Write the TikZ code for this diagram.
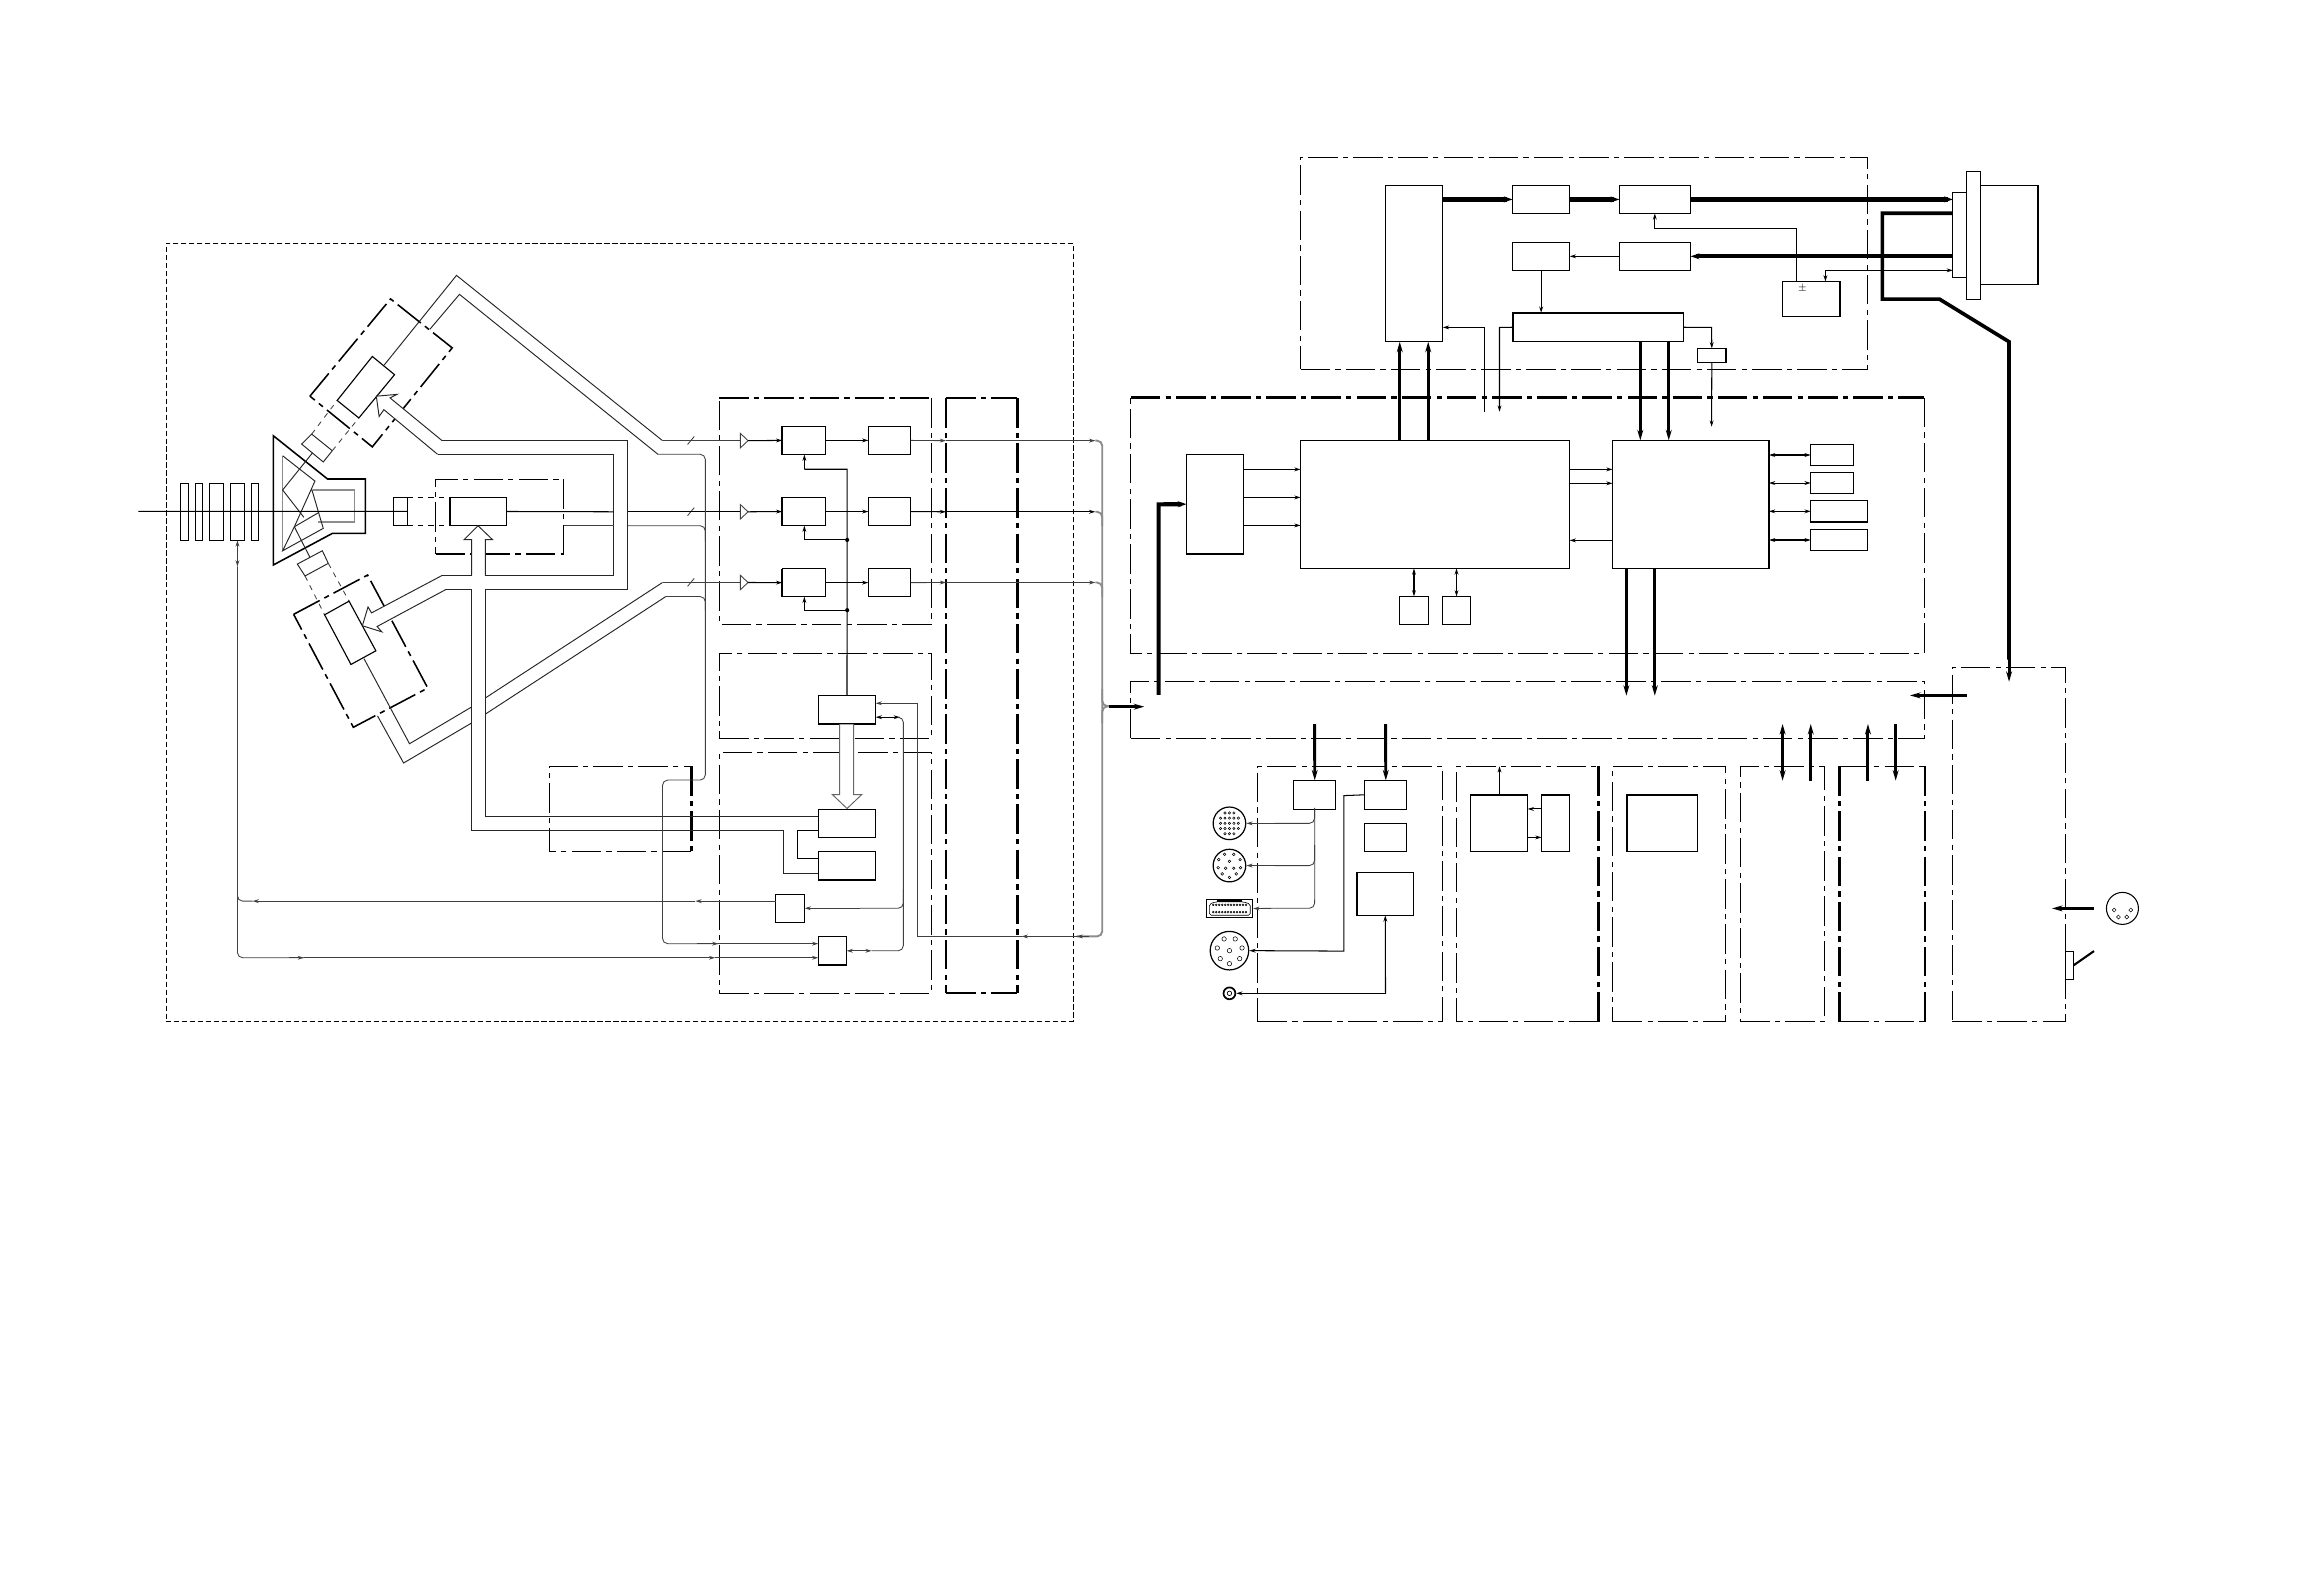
\documentclass[tikz,border=0pt]{standalone}
\usepackage{tikz}
\usetikzlibrary{arrows.meta}

% box given by its two corners
\newcommand{\blk}[6][blk]{%
  \pgfmathsetmacro{\cx}{(#3+#5)/2}\pgfmathsetmacro{\cy}{(#4+#6)/2}%
  \pgfmathsetmacro{\bw}{#5-#3}\pgfmathsetmacro{\bh}{#6-#4}%
  \node[#1, minimum width=\bw*0.03cm, minimum height=\bh*0.03cm] (#2) at (\cx,\cy) {};}

\begin{document}
\begin{tikzpicture}[
  x=0.03cm, y=-0.03cm,
  blk/.style={rectangle, draw, inner sep=0pt, outer sep=0pt, line width=0.65pt},
  panel/.style={rectangle, draw, inner sep=0pt, outer sep=0pt, line width=0.6pt, dash pattern=on 17pt off 3pt on 3pt off 3pt},
  bare/.style={rectangle, inner sep=0pt, outer sep=0pt},
  frame/.style={line width=0.6pt, dash pattern=on 17pt off 3pt on 3pt off 3pt},
  heavyframe/.style={line width=1.4pt, dash pattern=on 17pt off 3pt on 3pt off 3pt},
  heavy/.style={line width=1.4pt},
  sig/.style={line width=0.6pt},
  hair/.style={line width=0.5pt, black!75},
  rail/.style={line width=1.1pt, black!45, rounded corners=3pt},
  tube/.style={line width=0.55pt, black!85},
  arr/.style={sig, -{Stealth[length=3.6pt, width=2.2pt]}},
  harr/.style={hair, -{Stealth[length=3.6pt, width=2.2pt]}},
  biarr/.style={sig, {Stealth[length=3.6pt, width=2.2pt]}-{Stealth[length=3.6pt, width=2.2pt]}},
  bus/.style={line width=1.7pt, -{Stealth[length=6pt, width=3.4pt]}},
  busup/.style={line width=1.7pt, {Stealth[length=6pt, width=3.4pt]}-},
  bibus/.style={line width=1.7pt, {Stealth[length=6pt, width=3.4pt]}-{Stealth[length=6pt, width=3.4pt]}},
  wide/.style={line width=2.4pt, -{Stealth[length=5pt, width=3.4pt]}}
]
\useasboundingbox (0,0) rectangle (1568,1071.4);

% Frames
\node[rectangle, draw, inner sep=0pt, line width=0.5pt, dash pattern=on 3pt off 1.6pt, minimum width=612*0.03cm, minimum height=525*0.03cm] (camera) at (418,426.5) {};
\blk[bare]{grpa}{485.3}{268.6}{628.4}{421.1}
\blk[panel]{grpb}{485.3}{441}{628.4}{498.4}
\blk[panel]{grpc}{485.3}{507.7}{628.4}{670.2}
\blk[bare]{grpd}{638.3}{268.6}{686.4}{670.2}
\blk[bare]{grpe}{370.7}{517}{466.5}{574.4}
\blk[bare]{grpf}{293.9}{323.4}{380.4}{373.8}
\blk[bare]{main}{763}{268.3}{1298.3}{440.8}
\blk[panel]{busbox}{763}{459.9}{1298.3}{498.2}
\blk[panel]{drive}{877.5}{106.2}{1260.2}{249.2}
\blk[panel]{pnla}{848.5}{517}{973.4}{689.3}
\blk[bare]{pnlb}{982.9}{517}{1078.4}{689.3}
\blk[panel]{pnlc}{1088.2}{517}{1164.4}{689.3}
\blk[panel]{pnld}{1174}{517}{1231.2}{689.3}
\blk[bare]{pnle}{1241}{517}{1298.6}{689.3}
\blk[panel]{pnlf}{1317.2}{450.3}{1393.5}{688.9}

% Frames with heavier sides
\draw[heavyframe] (grpa.north west) -- (grpa.north east);
\draw[frame] (grpa.north east) -- (grpa.south east) -- (grpa.south west) -- (grpa.north west);
\draw[heavyframe] (grpd.north west) -- (grpd.south west);
\draw[heavyframe] (grpd.north east) -- (grpd.south east);
\draw[heavyframe, line width=1pt] (grpd.north west) -- (grpd.north east);
\draw[heavyframe, line width=1pt] (grpd.south west) -- (grpd.south east);
\draw[frame] (grpe.south east) -- (grpe.south west) -- (grpe.north west) -- (grpe.north east);
\draw[heavyframe] (grpe.north east) -- (grpe.south east);
\draw[heavyframe] (grpf.south west) -- (grpf.south east);
\draw[frame] (grpf.south east) -- (grpf.north east) -- (grpf.north west) -- (grpf.south west);
\draw[heavyframe] (main.north west) -- (main.north east);
\draw[frame] (main.north east) -- (main.south east) -- (main.south west) -- (main.north west);
\draw[heavyframe] (pnlb.north east) -- (pnlb.south east);
\draw[frame] (pnlb.south east) -- (pnlb.south west) -- (pnlb.north west) -- (pnlb.north east);
\draw[heavyframe] (pnle.north west) -- (pnle.south west);
\draw[heavyframe] (pnle.north east) -- (pnle.south east);
\draw[frame] (pnle.north west) -- (pnle.north east);
\draw[frame] (pnle.south west) -- (pnle.south east);

% Lens group
\blk{lensa}{121.6}{326}{127.2}{364.6}
\blk{lensb}{131.7}{326}{136.8}{364.6}
\blk{lensc}{141.3}{326}{150.6}{364.6}
\blk{lensd}{155.4}{326}{165}{364.6}
\blk{lense}{169.6}{326}{174.6}{364.6}

% Prism
\draw[line width=0.9pt] (184.4,294) -- (221,323.2) -- (246.5,323.2) -- (246.5,359.9) -- (224.2,359.9) -- (184.4,381.2) -- cycle;
\draw[hair, black!45, line width=0.8pt] (190.7,307.5) -- (190.7,371.6);
\draw[hair, black!45, line width=0.8pt] (211,330.6) -- (239,330.6) -- (239,352.2) -- (214.5,352.2);
\draw[tube] (190.7,307.5) -- (212.5,324.6) -- (198.6,355.4) -- (190.7,371.6) -- (218.1,356.5) -- (210.3,330);
\draw[tube] (210.8,305.6) -- (190.7,330.6) -- (205,349);
\draw[tube] (198.6,355.4) -- (215.2,345.7);
\draw[tube] (198.6,355.4) -- (209.1,376);

% Side channels
\draw[tube] (203.5,299.6) -- (210.3,292.9) -- (224.2,304.1) -- (218.1,311.7) -- cycle;
\draw[tube] (200.6,380.6) -- (217.5,371.6) -- (221.5,380.1) -- (205.8,388.6) -- cycle;
\draw[hair, dashed] (210.3,292.9) -- (227.5,270.2);
\draw[hair, dashed] (224.2,304.1) -- (242.1,282);
\draw[hair, dashed] (205.8,388.6) -- (219,414.8);
\draw[hair, dashed] (221.5,380.1) -- (235.5,405.6);
\draw[heavyframe, line width=0.9pt] (209.1,267.3) -- (263.5,201.7) -- (305.1,234.7) -- (251.2,301.5) -- cycle;
\draw[heavyframe, line width=0.9pt] (198.1,414.5) -- (248,388) -- (288.6,464.2) -- (238.4,490.7) -- cycle;
\draw[blk] (227.5,270.2) -- (251.2,240.5) -- (266.2,252.8) -- (242.1,282) -- cycle;
\draw[blk] (219,414.8) -- (235.5,405.6) -- (253.6,439.1) -- (236.8,448.3) -- cycle;

% Centre channel
\blk{barrel}{265.4}{335.5}{275}{354.7}
\blk{ccdc}{303.5}{335.5}{342}{354.7}
\draw[line width=1.1pt] (ccdc.north west) -- (ccdc.south west);
\draw[hair, dashed, black] (barrel.north east) -- (ccdc.north west);
\draw[hair, dashed, black] (barrel.south east) -- (ccdc.south west);

% Signal tubes
\draw[tube] (259.2,246.3) -- (308,185.8) -- (447,297.3);
\draw[tube] (290,222.2) -- (310,198.6) -- (443.9,306.5);
\draw[tube] (447,393) -- (327.5,470.9);
\draw[tube] (318.2,477) -- (276.3,501.8) -- (245.6,444.4);
\draw[tube] (449.2,402.5) -- (327.5,481.8);
\draw[tube] (318.2,487.8) -- (272.3,514.8) -- (254.7,483);

% Drive tubes
\draw[tube, fill=white] (318.2,388.2) -- (318.2,364.1) -- (313.1,364.1) -- (322.5,354.7) -- (332.3,364.1) -- (327.5,364.1) -- (327.5,388.2);
\draw[tube] (327.5,388.2) -- (414,388.2) -- (414,306.5) -- (295.2,306.5);
\draw[tube] (327.5,397.6) -- (423.6,397.6) -- (423.6,297.4) -- (298.4,297.4);
\draw[tube, fill=white] (298.4,297.4) -- (263.2,268.5) -- (267.8,266.1) -- (253.9,267.3) -- (255.8,281) -- (259,276.4) -- (295.2,306.5);
\draw[tube, fill=white] (298.4,388.2) -- (250.7,413.5) -- (248.3,409.5) -- (244.5,422.2) -- (257.6,426.3) -- (254.4,422.7) -- (301.1,397.6);
\draw[tube] (318.2,388.2) -- (298.4,388.2);
\draw[tube] (318.2,397.6) -- (301.1,397.6);

% Amplifier rows
\blk{preaa}{527.8}{287.6}{557.1}{306.7}
\blk{preab}{527.8}{335.6}{557.1}{354.7}
\blk{preac}{527.8}{383.6}{557.1}{402.6}
\blk{adca}{585.9}{287.6}{614.4}{306.7}
\blk{adcb}{585.9}{335.6}{614.4}{354.7}
\blk{adcc}{585.9}{383.6}{614.4}{402.6}
\foreach \n in {preaa,preab,preac} {
  \draw[line width=1pt] (\n.north west) -- (\n.south west);
}
\foreach \n/\y in {a/297.3,b/345.3,c/393} {
  \draw[hair, fill=white] (499.5,\y-4.9) -- (499.5,\y+4.9) -- (504.7,\y) -- cycle;
  \coordinate (amp\n) at (504.7,\y);
  \draw[arr] (amp\n) -- (prea\n.west);
  \draw[arr] (prea\n.east) -- (adc\n.west);
  \draw[hair] (463.9,\y+2.6) -- (468.4,\y-2.8);
}
\draw[hair] (447,297.3) -- (499.5,297.3);
\draw[sig] (423.6,345.3) -- (499.5,345.3);
\draw[hair] (447,393) -- (499.5,393);
\draw[sig] (barrel.east) -- (265.4,345) -- (93.3,345);
\draw[sig] (ccdc.east) -- (414,345.3);
\draw[hair] (380.4,354.7) -- (414,354.7);

% Timing and servo blocks
\blk{ctrl}{552.1}{469.1}{590.8}{488.7}
\draw[line width=1pt] (ctrl.south west) -- (ctrl.south east);
\blk{drva}{552.1}{546.1}{590.8}{565.1}
\blk{drvb}{552.1}{574.5}{590.8}{593.8}
\draw[line width=1pt] (drvb.south west) -- (drvb.south east);
\blk{iris}{523.3}{603.4}{542.9}{622.5}
\draw[line width=1pt] (iris.north west) -- (iris.south west);
\blk{focus}{552.1}{631.8}{571.2}{651.2}
\draw[line width=1pt] (focus.south west) -- (focus.south east);

\draw[tube, black!60, fill=white] (566.5,488.7) -- (566.5,536.1) -- (561.6,536.1) -- (571.5,545.5) -- (581.4,536.1) -- (576,536.1) -- (576,488.7);
\draw[sig] (ctrl.north) -- (571.6,316.6) -- (542.7,316.6);
\draw[arr] (542.7,316.6) -- (preaa.south -| 542.7,0);
\draw[arr] (571.6,364.3) -- (542.7,364.3) -- (preab.south -| 542.7,0);
\draw[arr] (571.6,411.7) -- (542.7,411.7) -- (preac.south -| 542.7,0);
\fill (571.6,364.3) circle (1.4);
\fill (571.6,411.7) circle (1.4);

\draw[tube] (327.5,397.6) -- (327.5,550.9) -- (drva.west |- 0,550.9);
\draw[tube] (318.2,397.6) -- (318.2,560.3) -- (528.5,560.3) -- (528.5,589.2) -- (drvb.west |- 0,589.2);
\draw[sig] (drva.west |- 0,560.3) -- (538,560.3) -- (538,579.3) -- (drvb.west |- 0,579.3);

% Servo wiring
\draw[biarr] (ctrl.east |- 0,483.9) -- (607.2,483.9);
\draw[hair, rounded corners=3pt] (607.2,483.9) -- (609.5,483.9) -- (609.5,612.8) -- (580,612.8);
\draw[harr] (580,612.8) -- (iris.east |- 0,612.8);
\draw[hair, rounded corners=3pt] (609.5,600) -- (609.5,641.5) -- (588.1,641.5);
\draw[biarr, hair] (focus.east |- 0,641.5) -- (588.1,641.5);
\draw[harr] (iris.west |- 0,608) -- (469.2,608);
\draw[harr] (469.2,608) -- (170.4,608);
\draw[hair, rounded corners=3pt] (170.4,608) -- (160.2,608) -- (160.2,382.2);
\draw[biarr, hair] (lensd.south |- 0,364.6) -- (160.2,382.2);
\draw[hair, rounded corners=3pt] (160.2,600) -- (160.2,646.2) -- (205,646.2);
\draw[harr] (195,646.2) -- (205,646.2);
\draw[harr] (205,646.2) -- (482.5,646.2);
\draw[harr] (482.5,646.2) -- (focus.west |- 0,646.2);
\draw[hair, rounded corners=3pt] (443.9,306.5) -- (475.9,306.5) -- (475.9,526.3) -- (447,526.3) -- (447,636.7) -- (484.7,636.7);
\draw[hair, rounded corners=3pt] (423.6,354.7) -- (475.9,354.7) -- (475.9,365);
\draw[hair, rounded corners=3pt] (449.2,402.5) -- (475.9,402.5) -- (475.9,412);
\draw[harr] (470,636.7) -- (484.7,636.7);
\draw[harr] (484.7,636.7) -- (focus.west |- 0,636.7);

% Output rails
\foreach \n/\y in {a/297.3,c/393} {
  \draw[harr] (adc\n.east) -- (638.3,\y);
  \draw[harr] (638.3,\y) -- (739,\y);
}
\draw[arr] (adcb.east) -- (638.3,345.3);
\draw[arr] (638.3,345.3) -- (739,345.3);
\draw[rail] (739,297.3) -- (743.7,297.3) -- (743.7,631.8) -- (726.4,631.8);
\draw[rail] (739,345.3) -- (743.7,345.3) -- (743.7,355);
\draw[rail] (739,393) -- (743.7,393) -- (743.7,403);
\draw[rail] (743.7,465) -- (743.7,476.5) -- (750,476.5);
\draw[rail] (743.7,488) -- (743.7,476.5) -- (750,476.5);
\draw[bus] (748,476.8) -- (772,476.8);
\draw[harr] (735,631.8) -- (726.4,631.8);
\draw[harr] (726.4,631.8) -- (689.3,631.8);
\draw[harr] (689.3,631.8) -- (619,631.8) -- (619,474.5) -- (ctrl.east |- 0,474.5);

% Main processing
\blk{matrix}{800.5}{306.5}{839.2}{373.8}
\draw[line width=1.1pt] (matrix.north west) -- (matrix.south west) -- (matrix.south east);
\blk{bigi}{877.5}{297.1}{1059}{383.5}
\blk{bigj}{1088}{297.1}{1193.5}{383.5}
\blk{smla}{944.4}{402.4}{963.6}{421.3}
\blk{smlb}{973.3}{402.4}{992.1}{421.3}
\blk{mema}{1221.7}{299.8}{1250.6}{314.2}
\blk{memb}{1221.7}{318.7}{1250.6}{333.1}
\blk{memc}{1221.7}{337.6}{1260}{352.4}
\draw[line width=1pt] (memc.south west) -- (memc.south east);
\blk{memd}{1221.7}{357.2}{1260}{371.5}

\draw[wide] (781.7,468.9) -- (781.7,340.3) -- (matrix.west);
\foreach \y in {316.7,335.6,354.5} {
  \draw[arr] (matrix.east |- 0,\y) -- (bigi.west |- 0,\y);
}
\foreach \y in {316.7,326.1} {
  \draw[arr] (bigi.east |- 0,\y) -- (bigj.west |- 0,\y);
}
\draw[arr] (bigj.west |- 0,364.6) -- (bigi.east |- 0,364.6);
\draw[biarr] (bigi.south -| smla.north) -- (smla.north);
\draw[biarr] (bigi.south -| smlb.north) -- (smlb.north);
\draw[biarr] (bigj.east |- mema.west) -- (mema.west);
\draw[biarr] (bigj.east |- memb.west) -- (memb.west);
\draw[biarr] (bigj.east |- memc.west) -- (memc.west);
\draw[biarr] (bigj.east |- memd.west) -- (memd.west);
\draw[bus] (bigj.south -| 1097.3,0) -- (1097.3,469.4);
\draw[bus] (bigj.south -| 1116.5,0) -- (1116.5,469.4);

% Drive section
\blk{buf}{934.9}{125.1}{973.5}{230.6}
\blk{wra}{1020.5}{125.1}{1059.1}{144}
\blk{wrb}{1092.6}{125.1}{1140.7}{144}
\blk{rda}{1020.5}{163.5}{1059.1}{182.4}
\blk{rdb}{1092.6}{163.5}{1140.7}{182.4}
\blk{servo}{1020.5}{211}{1135.6}{230.6}
\draw[line width=1.1pt] (servo.south west) -- (servo.north west) -- (servo.north east);
\blk{sens}{1145.4}{235.1}{1164.5}{244.5}
\blk{psu}{1202.8}{189.9}{1241.4}{213.5}
\draw[line width=1pt] (psu.north east) -- (psu.south east);
\node[inner sep=0pt, font=\tiny] (psulabel) at (1216,194.6) {$\pm$};
\blk{headb}{1317.6}{129.8}{1327}{187.2}
\blk{heada}{1327}{115.6}{1336.4}{202.2}
\blk{headc}{1336.4}{125.1}{1375}{191.9}

\draw[wide] (buf.east |- wra.west) -- (wra.west);
\draw[wide] (wra.east) -- (wrb.west);
\draw[wide] (wrb.east) -- (headb.west |- wrb.east);
\draw[wide] (headb.west |- rdb.east) -- (rdb.east);
\draw[arr] (rdb.west) -- (rda.east);
\draw[arr] (rda.south) -- (servo.north -| rda.south);
\draw[arr] (servo.east) -- (1154.8,220.9) -- (sens.north);
\draw[arr] (sens.south) -- (1154.8,287.9);
\draw[arr] (psu.north -| 1212.2,0) -- (1212.2,154.1) -- (1116.5,154.1) -- (wrb.south -| 1116.5,0);
\draw[biarr] (psu.north -| 1231.6,0) -- (1231.6,182.4) -- (headb.west |- 0,182.4);
\draw[line width=2.1pt] (headb.west |- 0,143.9) -- (1270,143.9) -- (1270,201.8) -- (1308.5,201.8) -- (1355.5,230.6) -- (1355.5,445);
\draw[bus] (1355.5,440) -- (1355.5,460);
\draw[busup] (buf.south -| 944.4,0) -- (944.4,297.1);
\draw[busup] (buf.south -| 963.6,0) -- (963.6,297.1);
\draw[arr] (1001.5,277.8) -- (1001.5,220.9) -- (buf.east |- 0,220.9);
\draw[arr] (servo.west) -- (1011.7,220.9) -- (1011.7,277.8);
\draw[bus] (servo.south -| 1106.7,0) -- (bigj.north -| 1106.7,0);
\draw[bus] (servo.south -| 1125.9,0) -- (bigj.north -| 1125.9,0);

% Lower panels
\blk{iofa}{873}{526.5}{901.1}{546}
\blk{iofb}{920.8}{526.5}{949.2}{546}
\blk{iofc}{920.8}{555.5}{949.2}{574.6}
\blk{iofd}{915.5}{588.6}{953.8}{617.6}
\draw[line width=1pt] (iofd.north west) -- (iofd.south west);
\blk{audioa}{992.4}{536.2}{1030.7}{574.6}
\draw[line width=1.1pt] (audioa.north west) -- (audioa.north east);
\blk{audiob}{1040.1}{536.2}{1059.1}{574.6}
\draw[line width=1.1pt] (audiob.north west) -- (audiob.north east);
\blk{ctla}{1097.7}{536.2}{1145.5}{574.6}
\draw[line width=1.1pt] (ctla.north west) -- (ctla.north east);

\draw[bus] (887,488.5) -- (iofa.north);
\draw[bus] (934.8,488.5) -- (iofb.north);
\draw[bibus] (1202.7,488.5) -- (1202.7,526.7);
\draw[busup] (1221.7,488.5) -- (1221.7,526.7);
\draw[busup] (1260.3,488.5) -- (1260.3,526.7);
\draw[bus] (1279,488.5) -- (1279,526.7);
\draw[bus] (1326.9,469.2) -- (1288.7,469.2);
\draw[bus] (1412.8,612.9) -- (1384.5,612.9);
\draw[arr] (audioa.north -| 1011.7,0) -- (1011.7,517);
\draw[arr] (audiob.west |- 0,545.8) -- (audioa.east |- 0,545.8);
\draw[arr] (audioa.east |- 0,565) -- (audiob.west |- 0,565);

% Connectors
\node[circle, draw, inner sep=0pt, line width=0.7pt, minimum size=22*0.03cm] (conna) at (829.5,555.5) {};
\foreach \dx in {-3,0,3} {
  \draw[line width=0.3pt] (829.5+\dx,555.5-7) circle (0.8);
  \draw[line width=0.3pt] (829.5+\dx,555.5+7) circle (0.8);
}
\foreach \dx in {-6,-3,0,3,6} {
  \draw[line width=0.3pt] (829.5+\dx,555.5-3.5) circle (0.8);
  \draw[line width=0.3pt] (829.5+\dx,555.5) circle (0.8);
  \draw[line width=0.3pt] (829.5+\dx,555.5+3.5) circle (0.8);
}
\node[circle, draw, inner sep=0pt, line width=0.7pt, minimum size=22*0.03cm] (connb) at (829.5,584) {};
\foreach \dx/\dy in {-3.3/-7.6,2.9/-7.6,-7.2/-4,7.2/-4,0/-2.9,-7.6/1.4,-2.6/1.8,2.9/1.8,7.5/1.4,-4.9/5.6,4.6/5.6,0/8} {
  \draw[line width=0.3pt] (829.5+\dx,584+\dy) circle (0.9);
}
\node[rectangle, draw, inner sep=0pt, line width=0.7pt, minimum width=31.1*0.03cm, minimum height=12.4*0.03cm] (connc) at (829.6,613) {};
\draw[line width=0.35pt, rounded corners=1pt] (816,610) -- (820,608.5) -- (839,608.5) -- (843.5,610) -- (843.5,617.5) -- (816,617.5) -- cycle;
\draw[line width=1pt] (821,608) -- (838,608);
\foreach \dx in {-11,-9,...,11} {
  \draw[line width=0.3pt] (829.6+\dx,610.5) circle (0.6);
  \draw[line width=0.3pt] (829.6+\dx,615.4) circle (0.6);
}
\node[circle, draw, inner sep=0pt, line width=0.7pt, minimum size=26*0.03cm] (connd) at (829.5,641.4) {};
\foreach \dx/\dy in {-3.6/-7.9,3.9/-7.9,-8.2/-1.8,8.5/-1.8,0/0,-6.2/5.4,6.9/5.4,0/8.8} {
  \draw[line width=0.3pt] (829.5+\dx,641.4+\dy) circle (1.5);
}
\node[circle, draw, inner sep=0pt, line width=1pt, minimum size=8*0.03cm] (conne) at (829.5,670.2) {};
\node[circle, draw, inner sep=0pt, line width=0.4pt, minimum size=3*0.03cm] (conneb) at (829.5,670.2) {};
\node[circle, draw, inner sep=0pt, line width=0.6pt, minimum size=21.6*0.03cm] (connf) at (1432,612.9) {};
\foreach \dx/\dy in {-5.6/1.1,-2.7/5.8,2.9/5.8,5.6/1.1} {
  \draw[line width=0.3pt] (1432+\dx,612.9+\dy) circle (1.3);
}
\blk{switchbase}{1393.5}{641.7}{1399.1}{660.8}
\coordinate (switchtip) at (1412.8,641.7);
\draw[line width=1.2pt] (switchbase.east) -- (switchtip);

\draw[hair, rounded corners=3pt] (iofa.south) -- (887,612.8) -- (860,612.8);
\draw[harr] (860,612.8) -- (connc.east);
\draw[hair, rounded corners=3pt] (887,545) -- (887,555.5) -- (860,555.5);
\draw[harr] (860,555.5) -- (conna.east);
\draw[hair, rounded corners=3pt] (887,570) -- (887,584) -- (860,584);
\draw[harr] (860,584) -- (connb.east);
\draw[arr] (iofb.west) -- (906.7,536.8) -- (906.7,641.7) -- (connd.east);
\draw[arr] (934.8,670.2) -- (conne.east);
\draw[arr] (934.8,670.2) -- (iofd.south);

\end{tikzpicture}
\end{document}
